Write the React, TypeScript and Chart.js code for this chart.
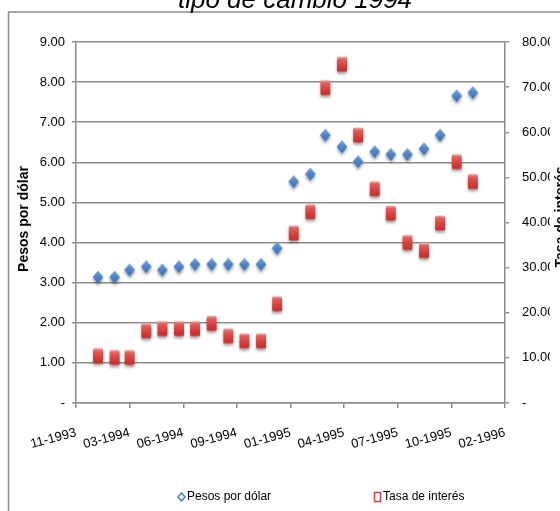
import React, { useEffect, useRef } from 'react';
import { Chart, registerables } from 'chart.js';

Chart.register(...registerables);

// Origin of the date axis; ticks are placed every TICK_STEP_DAYS from here.
const AXIS_START = '1993-11-21';
const TICK_STEP_DAYS = 100;
const AXIS_SPAN_DAYS = 800;

const fechas = [
  '1994-01-01', '1994-02-01', '1994-03-01', '1994-04-01', '1994-05-01', '1994-06-01',
  '1994-07-01', '1994-08-01', '1994-09-01', '1994-10-01', '1994-11-01', '1994-12-01',
  '1995-01-01', '1995-02-01', '1995-03-01', '1995-04-01', '1995-05-01', '1995-06-01',
  '1995-07-01', '1995-08-01', '1995-09-01', '1995-10-01', '1995-11-01', '1995-12-01',
];

const pesosPorDolar = [
  3.14, 3.14, 3.32, 3.4, 3.32, 3.4, 3.46, 3.46, 3.46, 3.46, 3.46, 3.86,
  5.52, 5.71, 6.68, 6.39, 6.02, 6.27, 6.2, 6.2, 6.34, 6.68, 7.66, 7.74,
];

const tasaInteres = [
  10.5, 10.1, 10.1, 16.0, 16.5, 16.5, 16.5, 17.7, 14.9, 13.8, 13.8, 22.0,
  37.7, 42.4, 69.9, 75.1, 59.4, 47.5, 42.1, 35.6, 33.8, 39.9, 53.5, 49.1,
];

const etiquetasFecha = [
  '11-1993', '03-1994', '06-1994', '09-1994', '01-1995',
  '04-1995', '07-1995', '10-1995', '02-1996',
];

const TITULO = 'tipo de cambio 1994';
const SERIE_PESOS = 'Pesos por dólar';
const SERIE_TASA = 'Tasa de interés';

const AZUL = '#4f81bd';
const ROJO = '#c0504d';
const GRIS = '#8c8c8c';
const SANS = '"Liberation Sans", Arial, sans-serif';

const dayOffset = (iso: string) =>
  (Date.parse(iso) - Date.parse(AXIS_START)) / 86400000;

const formatoCuenta = (v: number) => (v === 0 ? '-' : v.toFixed(2));

// Bevelled blue diamond with a soft drop shadow.
function diamondMarker(): HTMLCanvasElement {
  const c = document.createElement('canvas');
  c.width = 22;
  c.height = 28;
  const g = c.getContext('2d')!;
  const cx = 11, cy = 14, hw = 5.4, hh = 6.6;
  g.save();
  g.shadowColor = 'rgba(0,0,0,0.35)';
  g.shadowBlur = 3;
  g.shadowOffsetY = 2.5;
  g.beginPath();
  g.moveTo(cx, cy - hh);
  g.lineTo(cx + hw, cy);
  g.lineTo(cx, cy + hh);
  g.lineTo(cx - hw, cy);
  g.closePath();
  const grad = g.createLinearGradient(0, cy - hh, 0, cy + hh);
  grad.addColorStop(0, '#7aa6de');
  grad.addColorStop(0.45, '#5287cc');
  grad.addColorStop(1, '#3c6cae');
  g.fillStyle = grad;
  g.fill();
  g.restore();
  return c;
}

// Bevelled red block with a soft drop shadow.
function blockMarker(): HTMLCanvasElement {
  const c = document.createElement('canvas');
  c.width = 22;
  c.height = 28;
  const g = c.getContext('2d')!;
  const w = 10, h = 15;
  const x = 11 - w / 2, y = 14 - h / 2;
  g.save();
  g.shadowColor = 'rgba(0,0,0,0.35)';
  g.shadowBlur = 3;
  g.shadowOffsetY = 2.5;
  g.beginPath();
  g.roundRect(x, y, w, h, 1.5);
  const grad = g.createLinearGradient(0, y, 0, y + h);
  grad.addColorStop(0, '#f3b3b1');
  grad.addColorStop(0.18, '#e0605c');
  grad.addColorStop(0.6, '#d6403d');
  grad.addColorStop(1, '#bf302d');
  g.fillStyle = grad;
  g.fill();
  g.restore();
  return c;
}

// Chart frame, cropped title, axis titles and legend.
const decoracion = {
  id: 'decoracion',
  beforeDraw(chart: any) {
    const ctx = chart.ctx as CanvasRenderingContext2D;
    ctx.save();
    ctx.strokeStyle = GRIS;
    ctx.lineWidth = 1.5;
    ctx.beginPath();
    ctx.moveTo(8.5, 560);
    ctx.lineTo(8.5, 12);
    ctx.lineTo(600, 12);
    ctx.stroke();
    ctx.restore();
  },
  afterDraw(chart: any) {
    const ctx = chart.ctx as CanvasRenderingContext2D;
    ctx.save();
    ctx.fillStyle = '#000';

    ctx.font = `italic 26px ${SANS}`;
    ctx.textAlign = 'center';
    ctx.textBaseline = 'alphabetic';
    ctx.fillText(TITULO, 295, 8);

    ctx.font = `bold 14px ${SANS}`;
    ctx.textBaseline = 'middle';
    ctx.save();
    ctx.translate(24, 219);
    ctx.rotate(-Math.PI / 2);
    ctx.fillText(SERIE_PESOS, 0, 0);
    ctx.restore();
    ctx.save();
    ctx.translate(561, 217);
    ctx.rotate(-Math.PI / 2);
    ctx.fillText(SERIE_TASA, 0, 0);
    ctx.restore();

    // legend
    const ly = 497;
    ctx.font = `12px ${SANS}`;
    ctx.textAlign = 'left';
    ctx.lineWidth = 1.6;
    ctx.strokeStyle = AZUL;
    ctx.beginPath();
    ctx.moveTo(181.5, ly - 4);
    ctx.lineTo(185, ly);
    ctx.lineTo(181.5, ly + 4);
    ctx.lineTo(178, ly);
    ctx.closePath();
    ctx.stroke();
    ctx.fillText(SERIE_PESOS, 187, ly);

    ctx.strokeStyle = ROJO;
    ctx.strokeRect(374.5, ly - 4.5, 6, 9);
    ctx.fillText(SERIE_TASA, 383, ly);
    ctx.restore();
  },
};

export default function App() {
  const ref = useRef<HTMLCanvasElement>(null);

  useEffect(() => {
    if (!ref.current) return;
    const xs = fechas.map(dayOffset);
    const chart = new Chart(ref.current, {
      type: 'scatter',
      data: {
        datasets: [
          {
            label: SERIE_PESOS,
            data: xs.map((x, i) => ({ x, y: pesosPorDolar[i] })),
            yAxisID: 'y',
            pointStyle: diamondMarker(),
            backgroundColor: AZUL,
          },
          {
            label: SERIE_TASA,
            data: xs.map((x, i) => ({ x, y: tasaInteres[i] })),
            yAxisID: 'y1',
            pointStyle: blockMarker(),
            backgroundColor: ROJO,
          },
        ],
      },
      options: {
        responsive: false,
        animation: false,
        events: [],
        layout: { padding: { left: 16, right: 10, top: 42, bottom: 58 } },
        plugins: {
          legend: { display: false },
          tooltip: { enabled: false },
          title: { display: false },
        },
        scales: {
          x: {
            type: 'linear',
            position: 'bottom',
            min: 0,
            max: AXIS_SPAN_DAYS,
            afterBuildTicks: (s: any) => {
              s.ticks = etiquetasFecha.map((_, i) => ({ value: i * TICK_STEP_DAYS }));
            },
            afterFit: (s: any) => {
              s.height = 50;
            },
            ticks: {
              autoSkip: false,
              minRotation: 15,
              maxRotation: 15,
              padding: 17,
              color: '#000',
              font: { family: SANS, size: 13 },
              callback: (_v: any, i: number) => etiquetasFecha[i],
            },
            grid: { drawOnChartArea: false, color: GRIS, lineWidth: 1.5, tickLength: 5 },
            border: { color: GRIS, width: 1.5 },
          },
          y: {
            position: 'left',
            min: 0,
            max: 9,
            afterFit: (s: any) => {
              s.width = 60;
            },
            ticks: {
              stepSize: 1,
              padding: 7,
              color: '#000',
              font: { family: SANS, size: 13 },
              callback: (v: any) => formatoCuenta(Number(v)),
            },
            grid: { color: GRIS, lineWidth: 1.5, tickLength: 4 },
            border: { color: GRIS, width: 1.5 },
          },
          y1: {
            position: 'right',
            min: 0,
            max: 80,
            afterFit: (s: any) => {
              s.width = 45;
            },
            ticks: {
              stepSize: 10,
              padding: 13,
              color: '#000',
              font: { family: SANS, size: 13 },
              callback: (v: any) => formatoCuenta(Number(v)),
            },
            grid: { drawOnChartArea: false, color: GRIS, lineWidth: 1.5, tickLength: 4 },
            border: { color: GRIS, width: 1.5 },
          },
        },
      },
      plugins: [decoracion],
    });
    return () => chart.destroy();
  }, []);

  return (
    <div style={{ position: 'absolute', left: 0, top: 0, width: 560, height: 511, background: '#fff' }}>
      <canvas ref={ref} width={560} height={511} style={{ display: 'block' }} />
    </div>
  );
}
